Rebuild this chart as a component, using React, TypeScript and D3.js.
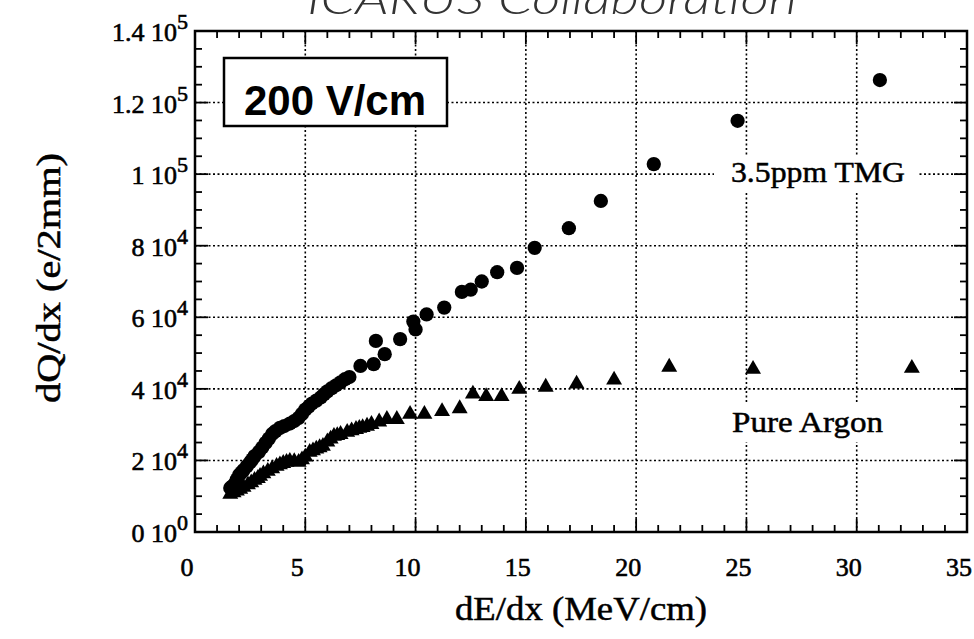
import React from "react";
import * as d3 from "d3";

// dQ/dx vs dE/dx, ICARUS, 200 V/cm
const tmgDeDx = [1.6, 1.7, 1.8, 1.9, 2.0, 2.1, 2.2, 2.35, 2.5, 2.6, 2.7, 2.9, 3.05, 3.2, 3.35, 3.5, 3.65, 3.85, 4.05, 4.3, 4.5, 4.7, 4.85, 5.0, 5.15, 5.3, 5.5, 5.7, 5.85, 6.0, 6.2, 6.4, 6.6, 6.8, 7.0, 7.5, 8.1, 8.2, 8.6, 9.3, 9.9, 10.0, 10.5, 11.3, 12.1, 12.5, 13.0, 13.7, 14.6, 15.4, 16.95, 18.4, 20.8, 24.6, 31.05];
const tmgDqDx = [12300, 12800, 13500, 14700, 15900, 16600, 17300, 18400, 19500, 20300, 21200, 22400, 23600, 24900, 26100, 27400, 28200, 29100, 29600, 30300, 31000, 31900, 33000, 34200, 35000, 35900, 36700, 37600, 38500, 39300, 40200, 41000, 41800, 42700, 43300, 46400, 46900, 53400, 49700, 53900, 58800, 56600, 60800, 62700, 67100, 67700, 70000, 72600, 73800, 79400, 84900, 92500, 102800, 114900, 126300];

const argonDeDx = [1.6, 1.75, 1.9, 2.05, 2.2, 2.4, 2.55, 2.7, 2.85, 2.95, 3.1, 3.3, 3.5, 3.7, 3.85, 4.0, 4.15, 4.3, 4.5, 4.7, 4.85, 5.0, 5.2, 5.35, 5.5, 5.65, 5.8, 6.0, 6.15, 6.3, 6.45, 6.6, 6.9, 7.1, 7.3, 7.45, 7.6, 7.8, 8.0, 8.35, 8.7, 9.15, 9.75, 10.4, 11.2, 12.0, 12.6, 13.2, 13.9, 14.7, 15.9, 17.3, 19.0, 21.5, 25.3, 32.5];
const argonDqDx = [10600, 11000, 11500, 12000, 12500, 13200, 13800, 14500, 15000, 15600, 16300, 17000, 17700, 18400, 18800, 19200, 19500, 19800, 19700, 19500, 20200, 21000, 22300, 22700, 23200, 23600, 24000, 25200, 26000, 26800, 27000, 27300, 27900, 28300, 28700, 29000, 29200, 29600, 30100, 30800, 31500, 31500, 32900, 32900, 33700, 34500, 38600, 37900, 37900, 39900, 40500, 41400, 42500, 46100, 45500, 45800];

const xTickValues = [0, 5, 10, 15, 20, 25, 30, 35];
const yTickValues = [0, 20000, 40000, 60000, 80000, 100000, 120000, 140000];
const yTickMantissa = ["0", "2", "4", "6", "8", "1", "1.2", "1.4"];
const yTickExponent = ["0", "4", "4", "4", "4", "5", "5", "5"];

const serif = "'Liberation Serif', 'Times New Roman', serif";
const sans = "'Liberation Sans', Arial, sans-serif";

export default function App() {
  const left = 195, right = 967, top = 31, bottom = 532;
  const x = d3.scaleLinear().domain([0, 35]).range([left, right]);
  const y = d3.scaleLinear().domain([0, 140000]).range([bottom, top]);

  const circle = d3.symbol(d3.symbolCircle).size(160)();
  const triangle = d3.symbol(d3.symbolTriangle).size(110)();

  const xMinor = d3.range(0, 36, 1);
  const yMinor = d3.range(0, 140001, 5000);

  return (
    <svg
      width={974}
      height={639}
      style={{ position: "absolute", left: 0, top: 0, background: "#fff" }}
    >
      {/* title, cut by the top edge as in the scan */}
      <text
        x={307}
        y={14}
        fontFamily="Lato, 'Open Sans', sans-serif"
        fontStyle="italic"
        fontWeight={300}
        fontSize={44}
        fill="#333"
        textLength={490}
        lengthAdjust="spacingAndGlyphs"
      >
        ICARUS Collaboration
      </text>

      {/* grid */}
      <g stroke="#000" strokeWidth={1.6} strokeDasharray="2,2.5">
        {xTickValues.slice(1, -1).map((v) => (
          <line key={"gx" + v} x1={x(v)} x2={x(v)} y1={top} y2={bottom} />
        ))}
        {yTickValues.slice(1, -1).map((v) => (
          <line key={"gy" + v} x1={left} x2={right} y1={y(v)} y2={y(v)} />
        ))}
      </g>

      {/* series labels over the grid */}
      <g fontFamily={serif} fontSize={30} stroke="#000" strokeWidth={0.5}>
        <rect x={714} y={155} width={205} height={38} fill="#fff" stroke="none" />
        <text x={731} y={182} textLength={174} lengthAdjust="spacingAndGlyphs">
          3.5ppm TMG
        </text>
        <rect x={726} y={402} width={164} height={40} fill="#fff" stroke="none" />
        <text x={732} y={432} textLength={151} lengthAdjust="spacingAndGlyphs">
          Pure Argon
        </text>
      </g>

      {/* field box */}
      <rect x={224} y={58} width={223} height={68} fill="#fff" stroke="#000" strokeWidth={2.5} />
      <text x={335} y={115} textAnchor="middle" fontFamily={sans} fontWeight="bold" fontSize={42}>
        200 V/cm
      </text>

      {/* ticks on all four sides, pointing in */}
      <g stroke="#000" strokeWidth={1.8}>
        {xMinor.map((v) => {
          const len = v % 5 === 0 ? 13 : 7;
          return (
            <g key={"tx" + v}>
              <line x1={x(v)} x2={x(v)} y1={bottom} y2={bottom - len} />
              <line x1={x(v)} x2={x(v)} y1={top} y2={top + len} />
            </g>
          );
        })}
        {yMinor.map((v) => {
          const len = v % 20000 === 0 ? 13 : 7;
          return (
            <g key={"ty" + v}>
              <line x1={left} x2={left + len} y1={y(v)} y2={y(v)} />
              <line x1={right} x2={right - len} y1={y(v)} y2={y(v)} />
            </g>
          );
        })}
      </g>

      {/* frame */}
      <rect x={left} y={top} width={right - left} height={bottom - top} fill="none" stroke="#000" strokeWidth={2.5} />

      {/* data */}
      <g fill="#000">
        {tmgDeDx.map((d, i) => (
          <path key={"c" + i} d={circle} transform={`translate(${x(d)},${y(tmgDqDx[i])})`} />
        ))}
        {argonDeDx.map((d, i) => (
          <path key={"t" + i} d={triangle} transform={`translate(${x(d)},${y(argonDqDx[i])})`} />
        ))}
      </g>

      {/* x tick labels */}
      <g fontFamily={serif} fontSize={26} textAnchor="middle" stroke="#000" strokeWidth={0.6}>
        {xTickValues.map((v) => (
          <text key={"lx" + v} x={x(v) - 8} y={576}>
            {v}
          </text>
        ))}
      </g>

      {/* y tick labels with exponents */}
      <g fontFamily={serif} fontSize={26} textAnchor="end" stroke="#000" strokeWidth={0.6}>
        {yTickValues.map((v, i) => (
          <text key={"ly" + v} x={188} y={y(v) + 10}>
            {yTickMantissa[i] + " 10"}
            <tspan dy={-12} fontSize={22}>
              {yTickExponent[i]}
            </tspan>
          </text>
        ))}
      </g>

      {/* axis titles */}
      <g fontFamily={serif} fontSize={34} textAnchor="middle" stroke="#000" strokeWidth={0.5}>
        <text x={581} y={620} textLength={252} lengthAdjust="spacingAndGlyphs">
          dE/dx (MeV/cm)
        </text>
        <text transform="translate(60,278) rotate(-90)" textLength={250} lengthAdjust="spacingAndGlyphs">
          dQ/dx (e/2mm)
        </text>
      </g>
    </svg>
  );
}
